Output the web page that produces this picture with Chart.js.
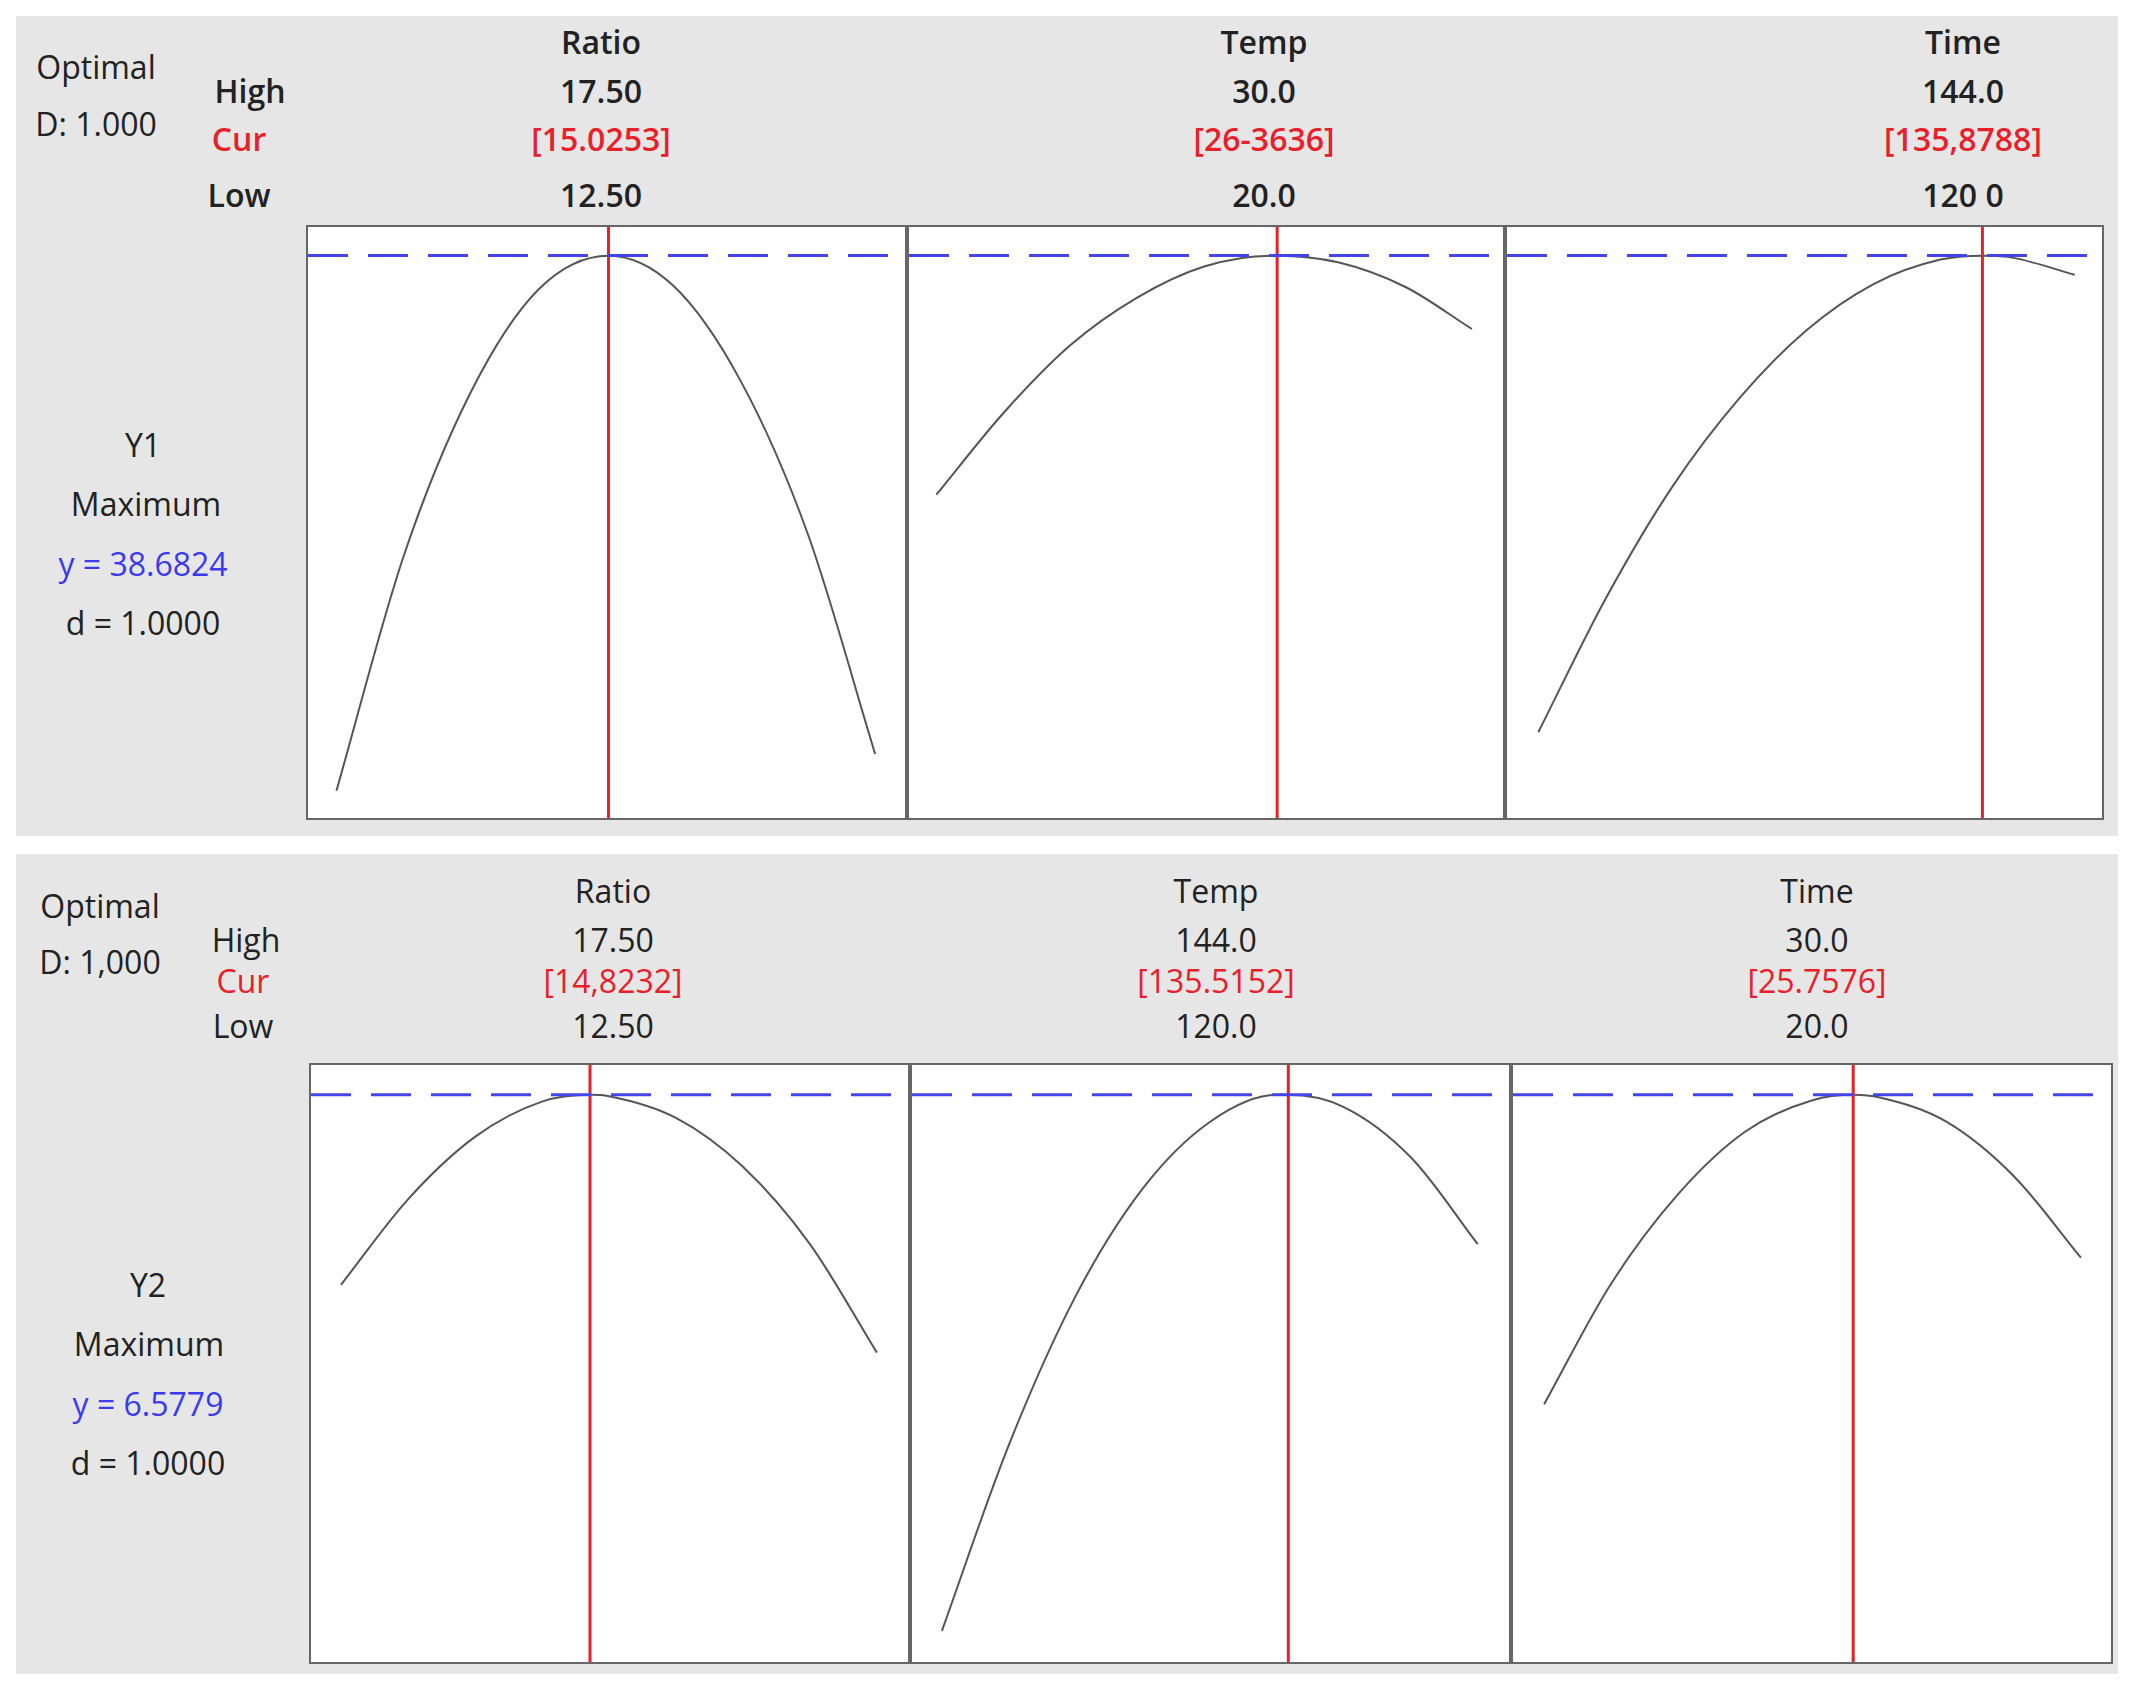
<!DOCTYPE html>
<html>
<head>
<meta charset="utf-8">
<script src="https://cdn.jsdelivr.net/npm/chart.js@4.4.0/dist/chart.umd.min.js"></script>
<style>
  body { margin: 0; background: #fff; width: 2132px; height: 1690px; position: relative; overflow: hidden;
         font-family: "Open Sans", "Noto Sans", sans-serif; }
  .band { position: absolute; background: #e6e6e6; }
  .panel { position: absolute; background: #fff; border: 2px solid #666; box-sizing: border-box; }
  .panel canvas { position: absolute; left: 0; top: 0; }
  .t { position: absolute; transform: translate(-50%, -50%); white-space: nowrap; font-size: 32px; color: #222; }
  .top .t { font-weight: 600; }
  .red { color: #e8202a; }
  .blue { color: #3a3aee; }
</style>
</head>
<body>
<div class="band" style="left:16px;top:16px;width:2102px;height:820px"></div>
<div class="band" style="left:16px;top:854px;width:2102px;height:820px"></div>
<div id="labels"></div>
<script>
// ---- data ----
// top block: Y1
const y1Opt = 38.6824;
const y1Range = [20.05, 39.63];
const ratio1X = [12.5, 13.125, 13.75, 14.375, 15.0253, 15.625, 16.25, 16.875, 17.5];
const ratio1Y = [20.95, 28.74, 34.18, 37.56, 38.68, 37.69, 34.54, 29.46, 22.17];
const temp1X = [20, 21.25, 22.5, 23.75, 25, 26.25, 26.3636, 27.5, 28.75, 30];
const temp1Y = [30.76, 33.46, 35.71, 37.29, 38.32, 38.68, 38.68, 38.46, 37.65, 36.25];
const time1X = [120, 123, 126, 129, 132, 135, 138, 139.87, 141, 144];
const time1Y = [22.89, 27.30, 31.03, 33.96, 36.21, 37.74, 38.55, 38.68, 38.64, 38.05];
// bottom block: Y2
const y2Opt = 6.5779;
const y2Range = [2.398, 6.798];
const ratio2X = [12.5, 13.125, 13.75, 14.375, 14.8232, 15, 15.625, 16.25, 16.875, 17.5];
const ratio2Y = [5.178, 5.808, 6.268, 6.528, 6.578, 6.568, 6.408, 6.048, 5.478, 4.678];
const temp2X = [120, 123, 126, 129, 132, 135, 135.5152, 138, 141, 144];
const temp2Y = [2.628, 3.998, 5.098, 5.888, 6.378, 6.578, 6.578, 6.488, 6.118, 5.478];
const time2X = [20, 21.25, 22.5, 23.75, 25, 25.7576, 26.25, 27.5, 28.75, 30];
const time2Y = [4.298, 5.188, 5.848, 6.308, 6.538, 6.578, 6.558, 6.378, 5.978, 5.378];

// red "current" line positions and the axis extents of each panel
const curPos = [15.0253, 26.3636, 139.87, 14.8232, 135.5152, 25.7576];
const xMins = [12.236, 19.49, 118.60, 12.22, 118.66, 19.42];
const xMaxs = [17.777, 30.58, 145.22, 17.79, 145.40, 30.56];

// header texts
const factorNames1 = ['Ratio', 'Temp', 'Time'];
const highLabels1 = ['17.50', '30.0', '144.0'];
const curLabels1 = ['[15.0253]', '[26-3636]', '[135,8788]'];
const lowLabels1 = ['12.50', '20.0', '120 0'];
const factorNames2 = ['Ratio', 'Temp', 'Time'];
const highLabels2 = ['17.50', '144.0', '30.0'];
const curLabels2 = ['[14,8232]', '[135.5152]', '[25.7576]'];
const lowLabels2 = ['12.50', '120.0', '20.0'];

// ---- layout ----
const panels = [
  { x: 306, y: 225, w: 601, h: 595 }, { x: 907, y: 225, w: 598, h: 595 }, { x: 1505, y: 225, w: 599, h: 595 },
  { x: 309, y: 1063, w: 601, h: 601 }, { x: 910, y: 1063, w: 601, h: 601 }, { x: 1511, y: 1063, w: 602, h: 601 }
];
const series = [
  [ratio1X, ratio1Y, y1Opt, y1Range], [temp1X, temp1Y, y1Opt, y1Range], [time1X, time1Y, y1Opt, y1Range],
  [ratio2X, ratio2Y, y2Opt, y2Range], [temp2X, temp2Y, y2Opt, y2Range], [time2X, time2Y, y2Opt, y2Range]
];

function put(parent, txt, x, y, cls) {
  const d = document.createElement('div');
  d.className = 't ' + (cls || '');
  d.style.left = x + 'px';
  d.style.top = y + 'px';
  d.textContent = txt;
  parent.appendChild(d);
}

function buildLabels() {
  const bot = document.getElementById('labels');
  const top = document.createElement('div');
  top.className = 'top';
  bot.appendChild(top);

  put(bot, 'Optimal', 96, 66); put(bot, 'D: 1.000', 96, 123);
  put(top, 'High', 250, 90); put(top, 'Cur', 239, 138, 'red'); put(top, 'Low', 239, 194);
  const cx1 = [601, 1264, 1963];
  for (let i = 0; i < 3; i++) {
    put(top, factorNames1[i], cx1[i], 41);
    put(top, highLabels1[i], cx1[i], 90);
    put(top, curLabels1[i], cx1[i], 138, 'red');
    put(top, lowLabels1[i], cx1[i], 194);
  }
  put(bot, 'Y1', 143, 444); put(bot, 'Maximum', 146, 503);
  put(bot, 'y = ' + y1Opt.toFixed(4), 143, 563, 'blue'); put(bot, 'd = 1.0000', 143, 622);

  put(bot, 'Optimal', 100, 905); put(bot, 'D: 1,000', 100, 961);
  put(bot, 'High', 246, 939); put(bot, 'Cur', 243, 980, 'red'); put(bot, 'Low', 243, 1025);
  const cx2 = [613, 1216, 1817];
  for (let i = 0; i < 3; i++) {
    put(bot, factorNames2[i], cx2[i], 890);
    put(bot, highLabels2[i], cx2[i], 939);
    put(bot, curLabels2[i], cx2[i], 980, 'red');
    put(bot, lowLabels2[i], cx2[i], 1025);
  }
  put(bot, 'Y2', 148, 1284); put(bot, 'Maximum', 149, 1343);
  put(bot, 'y = ' + y2Opt.toFixed(4), 148, 1403, 'blue'); put(bot, 'd = 1.0000', 148, 1462);
}

function makeChart(i) {
  const p = panels[i];
  const [xs, ys, opt, yr] = series[i];
  const div = document.createElement('div');
  div.className = 'panel';
  div.style.cssText = `left:${p.x}px;top:${p.y}px;width:${p.w}px;height:${p.h}px`;
  const cv = document.createElement('canvas');
  div.appendChild(cv);
  document.body.appendChild(div);
  cv.width = p.w - 4; cv.height = p.h - 4;
  cv.style.width = (p.w - 4) + 'px'; cv.style.height = (p.h - 4) + 'px';

  new Chart(cv.getContext('2d'), {
    type: 'scatter',
    data: {
      datasets: [
        { data: xs.map((x, k) => ({ x: x, y: ys[k] })), showLine: true, cubicInterpolationMode: 'monotone',
          borderColor: '#555', borderWidth: 2, pointRadius: 0, order: 3 },
        { data: [{ x: curPos[i], y: yr[0] }, { x: curPos[i], y: yr[1] }], showLine: true,
          borderColor: '#e8202a', borderWidth: 3, pointRadius: 0, order: 2 },
        { data: [{ x: xMins[i], y: opt }, { x: xMaxs[i], y: opt }], showLine: true,
          borderColor: '#4444ee', borderWidth: 3, borderDash: [40, 20], pointRadius: 0, order: 1 }
      ]
    },
    options: {
      responsive: false,
      animation: false,
      layout: { padding: 0 },
      plugins: { legend: { display: false }, tooltip: { enabled: false } },
      scales: {
        x: { type: 'linear', display: false, min: xMins[i], max: xMaxs[i] },
        y: { display: false, min: yr[0], max: yr[1] }
      }
    }
  });
}

buildLabels();
for (let i = 0; i < panels.length; i++) makeChart(i);
</script>
</body>
</html>
